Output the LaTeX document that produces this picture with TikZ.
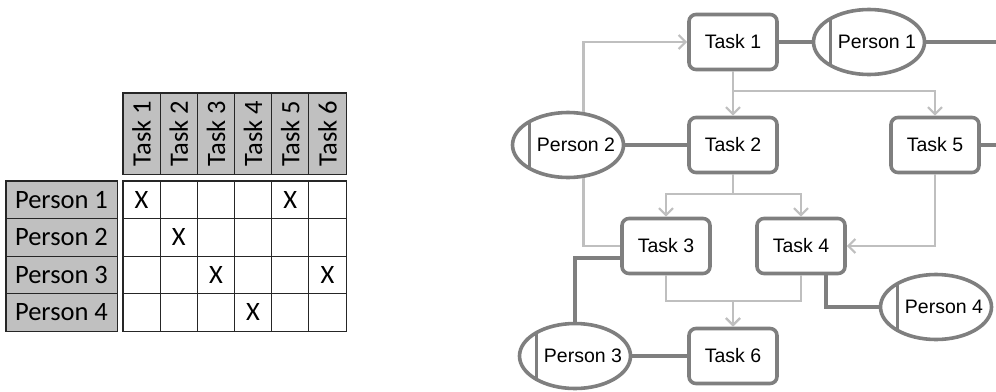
\documentclass[tikz,border=0pt]{standalone}
\usepackage{fontspec}
\setmainfont{Liberation Sans}
\newfontfamily\tabfont{Carlito}
\usetikzlibrary{arrows.meta,shapes.geometric}
\definecolor{darkg}{HTML}{7F7F7F}
\definecolor{lightg}{HTML}{BFBFBF}
\definecolor{headg}{HTML}{C0C0C0}
\tikzset{
  cell_h/.style = {draw=black!85, fill=headg, line width=0.8pt, rotate=90,
    minimum width=81pt, minimum height=37.17pt, inner sep=0pt,
    font=\tabfont\fontsize{26.5}{28}\selectfont},% tableau, en-tete tache
  cell_p/.style = {draw=black!85, fill=headg, line width=0.8pt,
    minimum width=111pt, minimum height=37.5pt, inner sep=0pt,
    font=\tabfont\fontsize{26.5}{28}\selectfont},% tableau, personne
  cell_e/.style = {draw=black!85, line width=0.8pt,
    minimum width=37.17pt, minimum height=37.5pt, inner sep=0pt},% case vide
  cell_x/.style = {font=\tabfont\fontsize{26.5}{28}\selectfont, inner sep=0pt},
  tab_b/.style = {draw=black!85, line width=1.8pt},% bord du tableau
  task_n/.style = {rectangle, rounded corners=7pt, draw=darkg, fill=white,
    line width=3.6pt, minimum width=88pt, minimum height=55pt,
    font=\fontsize{19.5}{22}\selectfont},% tache
  pers_n/.style = {ellipse, draw=darkg, fill=white, line width=3.6pt,
    minimum width=111pt, minimum height=65pt, inner sep=0pt,
    font=\fontsize{19.5}{22}\selectfont,
    execute at begin node=\kern8pt, execute at end node=\kern-8pt,
    path picture={\draw[darkg, line width=3.6pt]
      ([xshift=17pt]path picture bounding box.south west) --
      ([xshift=17pt]path picture bounding box.north west);}},% personne
  flow/.style = {lightg, line width=2.2pt,
    -{Straight Barb[length=7pt,width=14pt]}},% ordre des taches
  link/.style = {darkg, line width=3.6pt}% affectation
}

\begin{document}
\begin{tikzpicture}[x=1pt,y=-1pt]
\useasboundingbox (0,0) rectangle (996,391);

% matrice personnes / taches
\foreach \c in {1,...,6}
  \node [cell_h] (h\c) at ({123+37.17*(\c-0.5)},133.5) {Task \c};
\foreach \r in {1,...,4}
  \node [cell_p] (r\r) at (61.5,{181+37.5*(\r-0.5)}) {Person \r};
\foreach \r in {1,...,4}
  \foreach \c in {1,...,6}
    \node [cell_e] (c\r\c) at ({123+37.17*(\c-0.5)},{181+37.5*(\r-0.5)}) {};
\foreach \r/\c in {1/1,1/5,2/2,3/3,3/6,4/4}
  \node [cell_x] (x\r\c) at (c\r\c) {X};
% (h1 et h6 sont tournes : north west = coin bas gauche)
\draw [tab_b] (h1.north west) rectangle (h6.south east);
\draw [tab_b] (r1.north west) rectangle (r4.south east);
\draw [tab_b] (c11.north west) rectangle (c46.south east);

% graphe des taches
\node [task_n] (t1) at (733,42) {Task 1};
\node [task_n] (t2) at (733,145) {Task 2};
\node [task_n] (t5) at (935,145) {Task 5};
\node [task_n] (t3) at (666,246) {Task 3};
\node [task_n] (t4) at (801,246) {Task 4};
\node [task_n] (t6) at (733,356) {Task 6};
\node [pers_n] (p1) at (869,42) {Person 1};
\node [pers_n] (p2) at (568,145) {Person 2};
\node [pers_n] (p3) at (575,356) {Person 3};
\node [pers_n] (p4) at (936,307) {Person 4};
\coordinate (e1) at (1000,42);
\coordinate (e5) at (1000,145);

\draw [flow] (p2.65) |- (t1.west);
\draw [flow, -] (p2.295) |- (t3.west);
\draw [flow] (t1.south) -- (t2.north);
\draw [flow] (t1.south) -- ++(0,20) -| (t5.north);
\draw [flow] (t2.south) -- ++(0,20) -| (t3.north);
\draw [flow] (t2.south) -- ++(0,20) -| (t4.north);
\draw [flow] (t5.south) |- (t4.east);
\draw [flow] (t3.south) -- ++(0,26) -| (t6.north);
\draw [flow] (t4.south) -- ++(0,26) -| (t6.north);

\draw [link] (t1.east) -- (p1.west);
\draw [link] (p1.east) -- (e1);
\draw [link] (t5.east) -- (e5);
\draw [link] (p2.east) -- (t2.west);
\draw [link] ([yshift=-12pt]t3.west) -| (p3.north);
\draw [link] (p3.east) -- (t6.west);
\draw [link] ([xshift=25pt]t4.south) |- (p4.west);
\end{tikzpicture}
\end{document}
